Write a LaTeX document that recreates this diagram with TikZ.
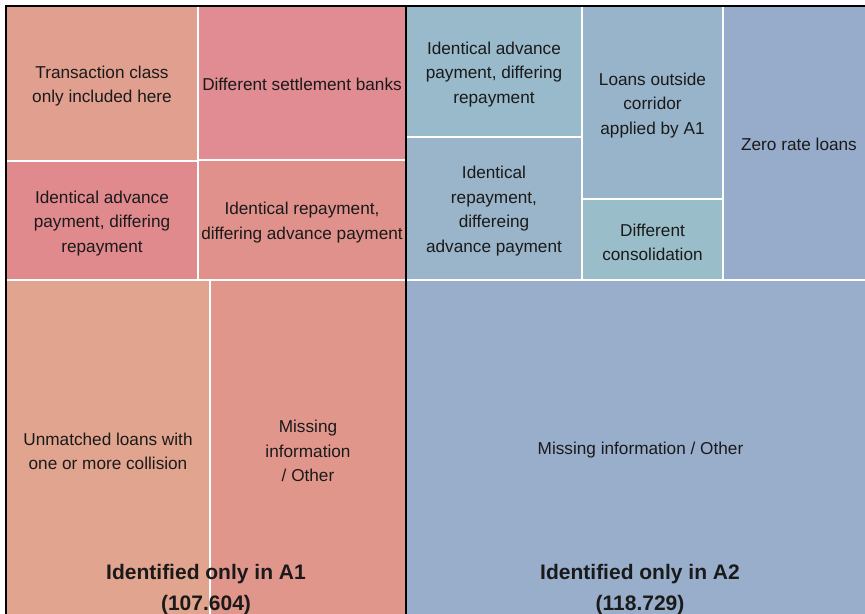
\documentclass[tikz,border=0pt]{standalone}
\usepackage{fontspec}
\setmainfont{Liberation Sans}
\definecolor{cTC}{HTML}{E1A08F}
\definecolor{cDSB}{HTML}{E18C92}
\definecolor{cIAP}{HTML}{E18A8E}
\definecolor{cIRD}{HTML}{E1918B}
\definecolor{cUL}{HTML}{E1A48E}
\definecolor{cMI}{HTML}{E1968C}
\definecolor{bIAP}{HTML}{98BACA}
\definecolor{bIRD}{HTML}{9AB5C9}
\definecolor{bLOC}{HTML}{97B4CA}
\definecolor{bDC}{HTML}{99BECA}
\definecolor{bZR}{HTML}{96ACCA}
\definecolor{bMI}{HTML}{98AECB}
\definecolor{txt}{HTML}{1A1A1A}
\begin{document}
\begin{tikzpicture}[x=0.75pt,y=-0.75pt,
  leaf/.style={draw=white, line width=1.5pt, inner sep=0pt, outer sep=0pt},
  cell/.style n args={4}{minimum width={(#3-#1)*0.75pt}, minimum height={(#4-#2)*0.75pt},
    at={({(#1+#3)/2},{(#2+#4)/2})}},
  lbl/.style={align=center, inner sep=0pt, text=txt, font=\fontsize{12.9pt}{18.4pt}\selectfont},
  group/.style={draw=black, line width=1.5pt},
  total/.style={align=center, text=txt, font=\fontsize{15.75pt}{23.25pt}\selectfont\bfseries}]
\useasboundingbox (0,0) rectangle (865,614);
\clip (0,0) rectangle (865,614);
\fill[white] (0,0) rectangle (865,614);
% group A1 cells
\node[leaf, fill=cTC, cell={6}{6}{198}{161}] (tc) {};
\node[leaf, fill=cDSB, cell={198}{6}{406}{160}] (dsb) {};
\node[leaf, fill=cIAP, cell={6}{161}{198}{280}] (iap) {};
\node[leaf, fill=cIRD, cell={198}{160}{406}{280}] (ird) {};
\node[leaf, fill=cUL, cell={6}{280}{210}{617}] (ul) {};
\node[leaf, fill=cMI, cell={210}{280}{406}{617}] (mi) {};
% group A2 cells
\node[leaf, fill=bIAP, cell={406}{6}{582}{137}] (iap2) {};
\node[leaf, fill=bIRD, cell={406}{137}{582}{280}] (ird2) {};
\node[leaf, fill=bLOC, cell={582}{6}{723}{199}] (loc) {};
\node[leaf, fill=bDC, cell={582}{199}{723}{280}] (dc) {};
\node[leaf, fill=bZR, cell={723}{6}{875}{280}] (zr) {};
\node[leaf, fill=bMI, cell={406}{280}{875}{617}] (mi2) {};
% labels
\node[lbl] (tcl) at ([yshift=-2pt]tc.center) {Transaction class\\only included here};
\node[lbl] (dsbl) at ([yshift=-0.75pt]dsb.center) {Different settlement banks};
\node[lbl] (iapl) at ([yshift=-2pt]iap.center) {Identical advance\\payment, differing\\repayment};
\node[lbl] (irdl) at ([yshift=-2pt]ird.center) {Identical repayment,\\differing advance payment};
\node[lbl] (ull) at ([yshift=-2pt]ul.center) {Unmatched loans with\\one or more collision};
\node[lbl] (mil) at ([yshift=-2pt]mi.center) {Missing\\information\\/ Other};
\node[lbl] (iap2l) at ([yshift=-2pt]iap2.center) {Identical advance\\payment, differing\\repayment};
\node[lbl] (ird2l) at ([yshift=-2pt]ird2.center) {Identical\\repayment,\\differeing\\advance payment};
\node[lbl] (locl) at ([yshift=-2pt]loc.center) {Loans outside\\corridor\\applied by A1};
\node[lbl] (dcl) at ([yshift=-2pt]dc.center) {Different\\consolidation};
\node[lbl] (zrl) at ([yshift=-0.75pt]zr.center) {Zero rate loans};
\node[lbl] (mi2l) at ([yshift=-1.5pt]mi2.center) {Missing information / Other};
% group borders
\draw[group] (6,6) rectangle (406,640);
\draw[group] (406,6) rectangle (880,640);
% totals
\node[total] (a1) at (206,589.5) {Identified only in A1\\(107.604)};
\node[total] (a2) at (640,589.5) {Identified only in A2\\(118.729)};
\end{tikzpicture}
\end{document}
